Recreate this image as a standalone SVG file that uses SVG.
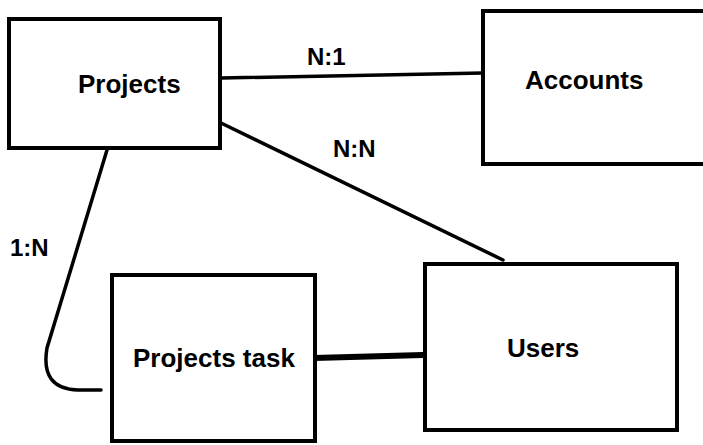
<svg xmlns="http://www.w3.org/2000/svg" width="703" height="445" viewBox="0 0 703 445">
<style>
.box{fill:#fff;stroke:#000;stroke-width:4}
.lbl{font-family:"Liberation Sans",Arial,sans-serif;font-weight:bold;font-size:26px;fill:#000}
.rel{font-family:"Liberation Sans",Arial,sans-serif;font-weight:bold;font-size:24px;fill:#000}
.con{fill:none;stroke:#000;stroke-width:3.5;stroke-linecap:round}
</style>
<rect width="703" height="445" fill="#fff"/>
<g id="connectors">
<path class="con" d="M222,78 L483,73"/>
<path class="con" d="M221,123 L503,260"/>
<path class="con" d="M107,150 L47,348 Q40,389 78,390 L101,390"/>
<path class="con" d="M314,358 L423,355" style="stroke-width:6"/>
<circle cx="314" cy="358" r="3.5" fill="#000"/>
</g>
<g id="projects">
<rect class="box" x="9" y="19" width="211" height="129"/>
<text class="lbl" x="78" y="93">Projects</text>
</g>
<g id="accounts">
<rect class="box" x="483" y="11" width="230" height="153"/>
<text class="lbl" x="525" y="89">Accounts</text>
</g>
<g id="projects-task">
<rect class="box" x="112" y="275" width="203" height="166"/>
<text class="lbl" x="133" y="367">Projects task</text>
</g>
<g id="users">
<rect class="box" x="425" y="264" width="252" height="166"/>
<text class="lbl" x="507" y="357">Users</text>
</g>
<g id="labels">
<text class="rel" x="307" y="65">N:1</text>
<text class="rel" x="333" y="157">N:N</text>
<text class="rel" x="10" y="256">1:N</text>
</g>
</svg>
